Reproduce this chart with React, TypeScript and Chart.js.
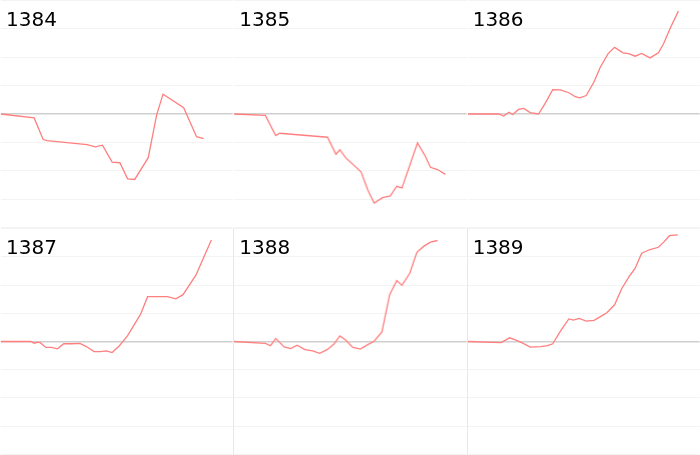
import React, { useEffect, useRef } from "react";
import { Chart, registerables } from "chart.js";

Chart.register(...registerables);

// Titles (years)
const YEARS = ["1384", "1385", "1386", "1387", "1388", "1389"];

// Day of year for each point, and change (%) from the year's start
const DAYS_1384 = [0, 52, 66, 72, 134, 147, 158, 173, 185, 197, 208, 229, 242, 252, 284, 304, 315];
const CHANGE_1384 = [0, -1.4, -9.0, -9.4, -10.8, -11.6, -11.0, -17.0, -17.2, -22.9, -23.1, -15.4, -0.4, 7.0, 2.2, -8.0, -8.7];

const DAYS_1385 = [0, 49, 65, 71, 145, 158, 164, 173, 197, 207, 217, 230, 242, 252, 260, 284, 296, 304, 315, 327];
const CHANGE_1385 = [0, -0.5, -7.6, -6.8, -8.2, -14.2, -12.6, -15.4, -20.5, -26.7, -31.4, -29.5, -28.9, -25.5, -26.1, -10.2, -14.9, -18.8, -19.6, -21.3];

const DAYS_1386 = [0, 48, 56, 64, 70, 79, 87, 97, 110, 121, 132, 144, 157, 167, 174, 184, 196, 206, 218, 228, 241, 250, 260, 270, 283, 296, 304, 315, 327];
const CHANGE_1386 = [0, 0, -0.7, 0.6, -0.2, 1.6, 2.0, 0.5, 0, 4.0, 8.6, 8.5, 7.5, 6.1, 5.7, 6.5, 11.3, 16.6, 21.3, 23.5, 21.6, 21.3, 20.4, 21.4, 19.8, 21.6, 24.8, 30.6, 36.3];

const DAYS_1387 = [0, 47, 52, 58, 62, 70, 79, 88, 98, 111, 123, 133, 145, 155, 164, 173, 184, 197, 217, 228, 259, 272, 283, 303, 315, 327];
const CHANGE_1387 = [0, 0, -0.6, -0.2, -0.5, -2.1, -2.1, -2.6, -0.8, -0.8, -0.7, -1.8, -3.6, -3.6, -3.3, -3.9, -1.6, 2.1, 9.6, 15.9, 15.9, 15.1, 16.6, 23.5, 29.8, 36.0];

const DAYS_1388 = [0, 49, 57, 65, 78, 88, 98, 110, 122, 133, 145, 155, 164, 173, 184, 196, 207, 217, 229, 241, 252, 260, 272, 283, 294, 304, 315];
const CHANGE_1388 = [0, -0.7, -1.5, 1.1, -1.9, -2.5, -1.3, -2.9, -3.3, -4.2, -2.8, -0.9, 2.0, 0.5, -2.1, -2.7, -1.1, 0.1, 3.4, 16.6, 21.6, 19.9, 24.2, 31.6, 33.8, 35.2, 35.8];

const DAYS_1389 = [0, 52, 65, 74, 84, 97, 113, 124, 132, 145, 157, 164, 173, 184, 196, 206, 216, 228, 239, 250, 260, 270, 283, 296, 305, 313, 326];
const CHANGE_1389 = [0, -0.4, 1.3, 0.6, -0.4, -2.0, -1.8, -1.5, -0.8, 4.0, 8.0, 7.6, 8.2, 7.2, 7.5, 8.8, 10.2, 13.0, 18.7, 22.8, 26.0, 31.3, 32.6, 33.4, 35.4, 37.5, 37.8];

const ALL_DAYS = [DAYS_1384, DAYS_1385, DAYS_1386, DAYS_1387, DAYS_1388, DAYS_1389];
const ALL_CHANGES = [CHANGE_1384, CHANGE_1385, CHANGE_1386, CHANGE_1387, CHANGE_1388, CHANGE_1389];

const Y_MIN = -40;
const Y_MAX = 40;
const Y_STEP = 10;
const X_MIN = 0;
const X_MAX = 360;

const LINE_COLOR = "#ff7f7f";

const COLS = 3;
const TOTAL_W = 700;
const ROW_H = [228, 227];

function MiniChart(props: { title: string; days: number[]; values: number[]; leftBorder: boolean }) {
  const ref = useRef<HTMLCanvasElement | null>(null);
  useEffect(() => {
    if (!ref.current) return;
    const chart = new Chart(ref.current, {
      type: "line",
      data: {
        datasets: [
          {
            data: props.days.map((d, i) => ({ x: d, y: props.values[i] })),
            borderColor: LINE_COLOR,
            borderWidth: 1.3,
            pointRadius: 0,
            tension: 0,
            fill: false,
          },
        ],
      },
      options: {
        animation: false,
        responsive: true,
        maintainAspectRatio: false,
        layout: { padding: 0 },
        plugins: {
          legend: { display: false },
          tooltip: { enabled: false },
          title: { display: false },
        },
        scales: {
          x: { type: "linear", min: X_MIN, max: X_MAX, display: false },
          y: {
            min: Y_MIN,
            max: Y_MAX,
            ticks: { display: false, stepSize: Y_STEP },
            grid: {
              drawTicks: false,
              color: (c: any) => (c.tick && c.tick.value === 0 ? "#cfcfcf" : "#f3f3f3"),
              lineWidth: (c: any) => (c.tick && c.tick.value === 0 ? 1.6 : 1),
            },
            border: { display: props.leftBorder, color: "#e8e8e8" },
          },
        },
      },
    });
    return () => chart.destroy();
  }, []);
  return (
    <div style={{ position: "relative", width: "100%", height: "100%", overflow: "hidden" }}>
      <canvas ref={ref} style={{ display: "block" }} />
      <div
        style={{
          position: "absolute",
          left: 6,
          top: 7,
          fontFamily: "'DejaVu Sans', sans-serif",
          fontSize: 20,
          color: "#000",
          pointerEvents: "none",
        }}
      >
        {props.title}
      </div>
    </div>
  );
}

export default function App() {
  const colW = TOTAL_W / COLS;
  return (
    <div
      style={{
        position: "fixed",
        left: 0,
        top: 0,
        width: TOTAL_W,
        height: ROW_H[0] + ROW_H[1],
        background: "#fff",
      }}
    >
      {YEARS.map((y, i) => {
        const col = i % COLS;
        const row = Math.floor(i / COLS);
        return (
          <div
            key={y}
            style={{
              position: "absolute",
              left: col * colW,
              top: row === 0 ? 0 : ROW_H[0],
              width: colW,
              height: ROW_H[row],
            }}
          >
            <MiniChart title={y} days={ALL_DAYS[i]} values={ALL_CHANGES[i]} leftBorder={i >= 4} />
          </div>
        );
      })}
    </div>
  );
}
